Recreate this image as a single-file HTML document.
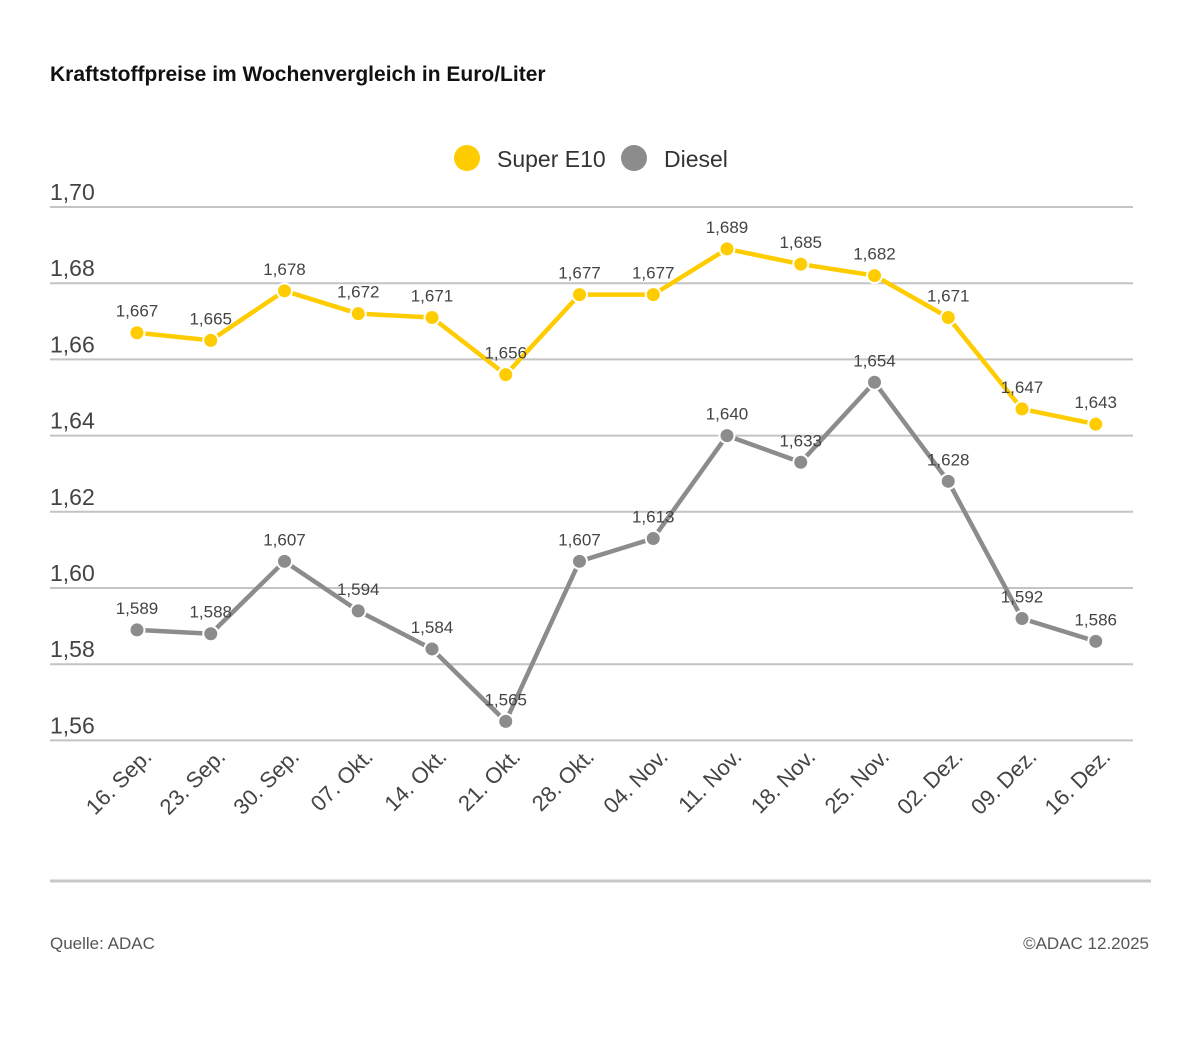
<!DOCTYPE html>
<html><head><meta charset="utf-8"><style>
html,body{margin:0;padding:0;background:#fff}
svg{display:block;font-family:"Liberation Sans","DejaVu Sans",sans-serif}
</style></head><body>
<svg id="c" width="1200" height="1053" viewBox="0 0 1200 1053" xmlns="http://www.w3.org/2000/svg">
<rect width="1200" height="1053" fill="#fff"/>
<text x="50" y="81" font-size="21" font-weight="bold" fill="#111">Kraftstoffpreise im Wochenvergleich in Euro/Liter</text>
<circle cx="467" cy="158" r="13" fill="#ffcc00"/>
<text x="497" y="167" font-size="23" fill="#333">Super E10</text>
<circle cx="634" cy="158" r="13" fill="#8c8c8c"/>
<text x="664" y="167" font-size="23" fill="#333">Diesel</text>
<line x1="50" y1="881" x2="1151" y2="881" stroke="#c8c8c8" stroke-width="3"/>
<text x="50" y="949" font-size="17" fill="#555">Quelle: ADAC</text>
<text x="1149" y="949" font-size="17" fill="#555" text-anchor="end">©ADAC 12.2025</text>
</svg>
<script>
const s=document.getElementById('c'),NS='http://www.w3.org/2000/svg';
function el(t,a,txt){const e=document.createElementNS(NS,t);for(const k in a)e.setAttribute(k,a[k]);if(txt!==undefined)e.textContent=txt;s.appendChild(e);return e;}
const Y=v=>207+(1.70-v)*3810;
const ticks=[1.70,1.68,1.66,1.64,1.62,1.60,1.58,1.56];
ticks.forEach(t=>{const y=Y(t);el('line',{x1:50,y1:y,x2:1133,y2:y,stroke:'#c4c4c4','stroke-width':2});
el('text',{x:50,y:y-7,'font-size':23,fill:'#444'},t.toFixed(2).replace('.',','));});
const labels=["16. Sep.","23. Sep.","30. Sep.","07. Okt.","14. Okt.","21. Okt.","28. Okt.","04. Nov.","11. Nov.","18. Nov.","25. Nov.","02. Dez.","09. Dez.","16. Dez."];
const X=i=>137+i*73.75;
labels.forEach((l,i)=>{const x=X(i)+16,y=758;el('text',{x:x,y:y,'font-size':22,fill:'#444','text-anchor':'end',transform:`rotate(-45 ${x} ${y})`},l);});
const e10=[1.667,1.665,1.678,1.672,1.671,1.656,1.677,1.677,1.689,1.685,1.682,1.671,1.647,1.643];
const die=[1.589,1.588,1.607,1.594,1.584,1.565,1.607,1.613,1.640,1.633,1.654,1.628,1.592,1.586];
function series(d,c){el('polyline',{points:d.map((v,i)=>X(i)+','+Y(v)).join(' '),fill:'none',stroke:c,'stroke-width':4.5,'stroke-linejoin':'round'});
d.forEach((v,i)=>{el('circle',{cx:X(i),cy:Y(v),r:7.5,fill:c,stroke:'#fff','stroke-width':2});});
d.forEach((v,i)=>{el('text',{x:X(i),y:Y(v)-16,'font-size':17,fill:'#444','text-anchor':'middle'},v.toFixed(3).replace('.',','));});}
series(e10,'#ffcc00');series(die,'#8c8c8c');
</script>
</body></html>
